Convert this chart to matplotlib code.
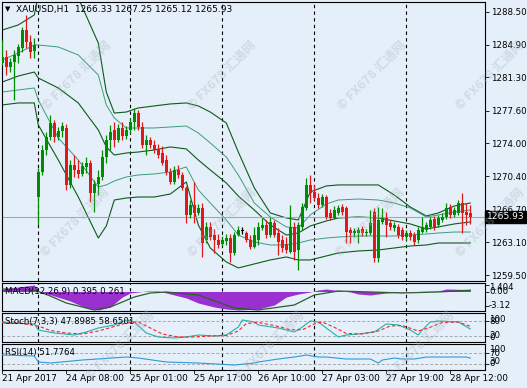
import matplotlib
matplotlib.use("Agg")
import matplotlib.pyplot as plt
import matplotlib.transforms as mtransforms
import numpy as np

# --- Candles (XAUUSD H1) ---
open_ = [1282.88, 1283.54, 1282.44, 1282.99, 1283.65, 1284.53, 1286.51, 1285.19, 1284.20,
         1268.10, 1270.86, 1273.29, 1274.72, 1276.26, 1274.72, 1275.38, 1275.71, 1269.43, 1271.63,
         1271.08, 1270.64, 1271.41, 1271.85, 1268.54, 1269.54, 1270.31, 1272.51, 1274.39, 1275.49,
         1274.39, 1275.71, 1274.83, 1275.49, 1276.37, 1277.36, 1275.82, 1273.84, 1274.39, 1273.84,
         1273.40, 1272.95, 1272.18, 1270.86, 1269.76, 1271.08, 1270.53, 1269.10, 1266.12, 1267.22,
         1266.34, 1266.89, 1263.36, 1264.80, 1263.91, 1263.36, 1262.92, 1263.25, 1263.58, 1261.93,
         1263.91, 1264.35, 1264.13, 1263.36, 1262.59, 1263.36, 1264.69, 1265.02, 1263.91, 1265.24,
         1264.13, 1263.36, 1262.92, 1262.04, 1264.80, 1262.26, 1264.80, 1266.89, 1269.43, 1268.66,
         1267.99, 1267.22, 1268.10, 1266.34, 1265.79, 1266.34, 1267.00, 1266.89, 1264.46, 1264.13,
         1264.13, 1264.58, 1264.13, 1264.13, 1266.45, 1261.38, 1265.35, 1265.79, 1265.24, 1264.69,
         1264.80, 1264.46, 1263.69, 1264.13, 1263.91, 1263.36, 1264.24, 1264.46, 1264.80, 1265.68,
         1265.02, 1265.57, 1265.90, 1267.00, 1266.12, 1266.34, 1267.44, 1266.45, 1266.33]
high = [1285.41, 1284.31, 1283.43, 1284.31, 1284.97, 1286.85, 1288.17, 1285.96, 1285.63,
        1271.30, 1273.84, 1275.27, 1277.14, 1276.59, 1275.82, 1276.37, 1276.15, 1272.18, 1272.73,
        1272.18, 1271.96, 1272.51, 1272.18, 1269.98, 1271.08, 1273.29, 1274.94, 1276.04, 1276.37,
        1276.15, 1276.37, 1275.93, 1276.81, 1277.92, 1277.70, 1276.37, 1274.94, 1274.72, 1274.39,
        1273.95, 1273.73, 1272.73, 1271.30, 1271.52, 1271.63, 1270.86, 1269.32, 1267.77, 1269.76,
        1267.33, 1267.44, 1265.35, 1265.35, 1264.58, 1264.02, 1263.80, 1264.02, 1264.02, 1264.24,
        1264.91, 1264.80, 1264.35, 1263.91, 1264.80, 1265.35, 1265.79, 1265.57, 1265.90, 1265.57,
        1264.69, 1263.91, 1263.69, 1267.22, 1265.35, 1265.35, 1267.44, 1270.20, 1270.53, 1269.43,
        1268.54, 1268.43, 1268.32, 1266.78, 1267.11, 1267.22, 1267.33, 1267.11, 1264.80, 1264.69,
        1264.80, 1264.91, 1264.58, 1266.67, 1266.89, 1267.00, 1266.89, 1266.45, 1265.57, 1265.35,
        1265.13, 1264.80, 1264.46, 1264.46, 1264.24, 1264.80, 1265.90, 1265.35, 1265.90, 1266.01,
        1266.12, 1266.34, 1267.44, 1267.33, 1267.00, 1267.77, 1268.54, 1267.44, 1267.25]
low = [1282.66, 1281.55, 1281.88, 1278.80, 1282.88, 1284.09, 1284.53, 1283.43, 1283.43,
       1265.02, 1270.53, 1272.73, 1274.39, 1274.17, 1274.39, 1274.72, 1268.88, 1269.10, 1270.31,
       1270.20, 1270.42, 1270.75, 1267.55, 1266.45, 1268.32, 1269.98, 1271.85, 1273.29, 1273.62,
       1274.17, 1274.39, 1274.50, 1275.16, 1275.49, 1275.49, 1273.51, 1272.73, 1273.51, 1272.95,
       1272.40, 1271.63, 1270.53, 1269.54, 1269.54, 1270.20, 1268.88, 1265.24, 1265.79, 1265.24,
       1266.12, 1261.49, 1263.03, 1263.36, 1261.93, 1262.48, 1262.70, 1262.81, 1260.94, 1261.71,
       1263.80, 1264.02, 1263.14, 1262.37, 1262.48, 1262.81, 1264.46, 1263.58, 1263.69, 1263.69,
       1261.71, 1262.04, 1261.93, 1261.93, 1261.16, 1260.06, 1264.46, 1266.67, 1267.44, 1267.77,
       1266.89, 1267.00, 1265.68, 1265.57, 1265.68, 1266.12, 1266.12, 1263.03, 1263.03, 1263.69,
       1263.03, 1263.80, 1263.80, 1263.91, 1260.94, 1260.94, 1265.13, 1263.69, 1264.46, 1264.35,
       1263.58, 1263.36, 1263.36, 1263.36, 1262.81, 1263.03, 1264.13, 1264.24, 1264.58, 1264.46,
       1264.80, 1265.35, 1265.68, 1265.79, 1265.90, 1266.12, 1264.13, 1265.02, 1265.12]
close = [1283.54, 1282.44, 1282.99, 1283.76, 1284.64, 1286.51, 1285.19, 1284.09, 1284.86,
         1270.86, 1273.29, 1274.72, 1276.26, 1274.72, 1275.38, 1275.93, 1269.43, 1271.63, 1271.08,
         1270.64, 1271.52, 1271.85, 1268.54, 1269.54, 1270.31, 1272.51, 1274.39, 1275.27, 1274.39,
         1275.71, 1274.83, 1275.49, 1276.37, 1277.36, 1275.82, 1273.84, 1274.39, 1273.84, 1273.29,
         1272.73, 1271.85, 1270.86, 1269.76, 1271.08, 1270.53, 1269.10, 1266.12, 1267.22, 1266.34,
         1266.89, 1263.03, 1264.80, 1263.69, 1263.36, 1262.81, 1263.36, 1263.58, 1261.93, 1263.91,
         1264.46, 1264.35, 1263.36, 1262.59, 1263.91, 1264.80, 1265.02, 1263.91, 1265.35, 1263.91,
         1263.14, 1262.48, 1262.26, 1264.80, 1262.04, 1265.02, 1267.00, 1269.43, 1268.54, 1267.99,
         1267.22, 1268.10, 1265.90, 1265.79, 1266.67, 1266.89, 1266.45, 1264.24, 1264.13, 1264.35,
         1264.46, 1264.13, 1264.24, 1265.24, 1261.38, 1265.57, 1265.79, 1265.02, 1264.80, 1265.02,
         1263.91, 1263.69, 1264.13, 1263.69, 1263.14, 1264.46, 1264.80, 1265.02, 1265.57, 1264.80,
         1265.79, 1265.90, 1266.89, 1266.12, 1266.67, 1267.44, 1266.34, 1266.12, 1265.93]

# --- Bollinger envelopes, sampled at bar indices ---
band_idx = [0, 4, 8, 9, 14, 19, 24, 26, 28, 31, 34, 38, 42, 46, 49, 52, 56, 59, 63, 67, 71,
            74, 77, 81, 84, 89, 94, 98, 102, 106, 109, 113, 117]
bb_up2 = [1286.51, 1287.07, 1288.17, 1290.37, 1290.93, 1290.04, 1285.08, 1279.68, 1277.36,
          1277.47, 1277.92, 1278.14, 1278.36, 1278.47, 1278.14, 1277.47, 1276.26, 1273.06,
          1269.10, 1266.34, 1265.79, 1265.57, 1268.66, 1269.32, 1269.43, 1269.43, 1269.43,
          1268.32, 1267.00, 1266.01, 1266.34, 1267.11, 1267.44]
bb_up1 = [1283.21, 1283.98, 1284.86, 1284.86, 1284.64, 1283.76, 1281.55, 1278.25, 1276.81,
          1275.71, 1275.71, 1275.71, 1275.82, 1275.93, 1275.16, 1274.06, 1272.51, 1270.53,
          1267.44, 1265.90, 1264.80, 1264.69, 1266.12, 1267.33, 1267.77, 1267.88, 1267.77,
          1267.44, 1266.89, 1265.90, 1266.12, 1266.45, 1266.67]
bb_mid = [1280.78, 1281.44, 1281.88, 1281.22, 1280.12, 1278.47, 1275.49, 1273.62, 1272.73,
          1272.95, 1273.06, 1273.29, 1273.62, 1273.40, 1272.18, 1271.08, 1269.65, 1268.21,
          1266.67, 1265.02, 1263.91, 1264.13, 1264.91, 1265.46, 1265.79, 1265.90, 1265.79,
          1265.46, 1265.13, 1264.58, 1264.80, 1265.13, 1265.35]
bb_lo1 = [1279.68, 1279.90, 1280.12, 1278.80, 1274.61, 1272.18, 1269.21, 1269.43, 1269.87,
          1270.31, 1270.53, 1270.64, 1270.86, 1271.41, 1268.88, 1267.44, 1265.57, 1263.91,
          1263.14, 1262.81, 1262.81, 1263.03, 1263.36, 1263.58, 1263.69, 1263.80, 1263.80,
          1263.80, 1263.91, 1264.02, 1264.13, 1264.24, 1264.24]
bb_lo2 = [1278.25, 1278.47, 1278.47, 1276.04, 1272.18, 1268.10, 1263.58, 1264.91, 1267.77,
          1267.99, 1268.10, 1268.10, 1268.43, 1269.76, 1265.02, 1262.48, 1260.94, 1260.28,
          1260.72, 1261.16, 1261.49, 1261.16, 1261.16, 1261.60, 1261.93, 1262.15, 1262.26,
          1262.48, 1262.70, 1262.81, 1263.03, 1263.03, 1263.03]

# --- MACD(12,26,9) ---
macd_idx = [0, 4, 8, 9, 13, 17, 21, 24, 27, 30, 32, 36, 39, 41, 46, 49, 53, 56, 59, 64, 68,
            71, 74, 77, 79, 81, 85, 87, 89, 92, 96, 100, 104, 109, 111, 117]
macd_main = [0.52, 0.94, 1.35, 0.10, -0.94, -1.98, -3.44, -3.85, -3.23, -1.15, -0.31, 0.10,
             0.10, -0.31, -1.35, -2.40, -3.23, -3.65, -3.85, -3.65, -2.81, -1.15, -0.52, -0.10,
             0.31, 0.52, 0.10, -0.10, -0.52, -0.73, -0.31, -0.10, 0.0, 0.10, 0.52, 0.395]
sig_idx = [0, 8, 12, 16, 23, 27, 33, 37, 41, 49, 58, 64, 73, 78, 84, 92, 100, 109, 117]
macd_signal = [0.52, 0.31, -0.94, -2.40, -3.85, -3.23, -1.15, -0.31, -0.10, -0.73, -3.44,
               -3.85, -2.81, -0.73, 0.10, -0.10, -0.31, -0.10, 0.261]

# --- Stochastic(7,3,3) ---
stk_idx = [0, 2, 8, 9, 13, 18, 21, 24, 28, 31, 33, 36, 39, 43, 46, 49, 53, 56, 59, 60, 63,
           64, 69, 73, 75, 77, 79, 81, 84, 86, 89, 93, 96, 99, 102, 104, 105, 107, 109, 114, 117]
stoch_main = [76, 72, 68, 44, 32, 24, 36, 52, 64, 84, 76, 32, 16, 12, 16, 24, 20, 24, 56, 84,
              76, 64, 52, 36, 56, 80, 76, 52, 16, 24, 28, 36, 68, 64, 44, 24, 44, 76, 80, 76,
              47.8985]
sig_s_idx = [0, 4, 9, 12, 16, 20, 24, 28, 31, 34, 37, 40, 44, 48, 52, 56, 59, 61, 64, 68, 72,
             75, 78, 80, 83, 86, 90, 94, 97, 100, 104, 107, 110, 114, 117]
stoch_signal = [72, 72, 60, 42, 32, 28, 40, 58, 72, 76, 52, 28, 16, 16, 20, 22, 40, 70, 74,
                62, 45, 45, 68, 76, 55, 30, 28, 40, 60, 62, 40, 55, 74, 76, 58.6501]

# --- RSI(14) ---
rsi_idx = [0, 8, 9, 12, 20, 31, 34, 41, 49, 58, 63, 64, 69, 73, 76, 79, 81, 86, 92, 94, 95,
           98, 100, 103, 106, 111, 116, 117]
rsi = [62.9, 59.3, 37.5, 33.8, 44.7, 55.6, 52.0, 37.5, 33.8, 26.5, 33.8, 37.5, 48.4, 55.6,
       62.9, 55.6, 55.6, 48.4, 48.4, 33.8, 44.7, 52.0, 48.4, 48.4, 55.6, 55.6, 55.6, 51.7764]

price_ticks = [1288.50, 1284.90, 1281.30, 1277.60, 1274.00, 1270.40, 1266.70, 1263.10, 1259.50]
separators = [9, 32, 55, 78, 101]
time_idx = [0, 16, 32, 48, 64, 80, 96, 112]
time_labels = ["21 Apr 2017", "24 Apr 08:00", "25 Apr 01:00", "25 Apr 17:00",
               "26 Apr 10:00", "27 Apr 03:00", "27 Apr 19:00", "28 Apr 12:00"]

# --- styling ---
W, H = 527, 388
BG = "#E4EFFA"
UP = "#008C00"
DOWN = "#E01818"
BAND_DARK = "#0E5A1A"
BAND_LIGHT = "#3C9C78"
FS = 6.2
XL, XR = -0.075, 120.675   # bar index at left / right panel edge

plt.rcParams["font.family"] = ["DejaVu Sans"]
fig = plt.figure(figsize=(W / 100, H / 100), dpi=100, facecolor=BG)


def add_panel(top, bottom, left=2, right=485):
    ax = fig.add_axes([left / W, 1 - bottom / H, (right - left) / W, (bottom - top) / H])
    ax.set_facecolor(BG)
    ax.set_xlim(XL, XR)
    for s in ax.spines.values():
        s.set_linewidth(0.8)
        s.set_color("black")
    ax.set_xticks([])
    ax.yaxis.tick_right()
    ax.tick_params(axis="y", direction="out", length=3, width=0.6, pad=1.5, labelsize=FS)
    for x in separators:
        ax.axvline(x, color="black", lw=0.8, ls=(0, (3, 3)), zorder=1)
    return ax


def side_labels(ax, items):
    # MetaTrader shifts the extreme labels inside the small panels
    for text, ypix in items:
        fig.text(489 / W, 1 - ypix / H, text, fontsize=FS, ha="left", va="center")


# --- main price panel ---
ax = add_panel(2, 281)
ax.set_ylim(1258.84, 1289.60)
ax.set_yticks(price_ticks)
ax.set_yticklabels([f"{p:.2f}" for p in price_ticks])

bx = np.arange(len(close))
o = np.array(open_); c = np.array(close); hi = np.array(high); lo = np.array(low)
col = np.where(c > o, UP, np.where(c < o, DOWN, "black"))
ax.vlines(bx, lo, hi, colors=col, lw=0.9, zorder=3)
body_lo = np.minimum(o, c)
body_h = np.maximum(np.abs(c - o), 0.06)
ax.bar(bx, body_h, bottom=body_lo, width=0.72, color=col, linewidth=0, zorder=4)

for vals, colr, lw in [(bb_up2, BAND_DARK, 0.8), (bb_mid, BAND_DARK, 0.8), (bb_lo2, BAND_DARK, 0.8),
                       (bb_up1, BAND_LIGHT, 0.7), (bb_lo1, BAND_LIGHT, 0.7)]:
    ax.plot(band_idx, vals, color=colr, lw=lw, zorder=2)

ax.axhline(close[-1], color="#A8A8A8", lw=0.8, zorder=2)

trans = mtransforms.blended_transform_factory(ax.transAxes, ax.transData)
ax.text(1.004, close[-1], f"{close[-1]:.2f}", transform=trans, color="white", fontsize=FS + 0.4,
        va="center", ha="left", zorder=10, clip_on=False,
        bbox=dict(boxstyle="square,pad=0.18", fc="black", ec="black"))

ax.text(0.006, 0.985, "\u25bc", transform=ax.transAxes, fontsize=5, va="top", ha="left")
ax.text(0.03, 0.988, f"XAUUSD,H1  {open_[-1]:.2f} {high[-1]:.2f} {low[-1]:.2f} {close[-1]:.2f}",
        transform=ax.transAxes, fontsize=FS + 0.3, va="top", ha="left")

# --- MACD panel ---
axm = add_panel(283, 311)
axm.set_ylim(-4.06, 1.77)
axm.fill_between(macd_idx, 0, macd_main, color="#9B30D0", lw=0, zorder=2)
axm.plot(sig_idx, macd_signal, color="#2C5E2C", lw=0.9, zorder=3)
axm.set_yticks([1.404, 0.0, -3.12])
axm.set_yticklabels([])
side_labels(axm, [("1.404", 287.5), ("0.00", 291.5), ("-3.12", 305.5)])
axm.text(0.006, 0.86, "MACD(12,26,9) 0.395 0.261", transform=axm.transAxes, fontsize=FS,
         va="top", ha="left", zorder=5)

# --- Stochastic panel ---
axs = add_panel(313, 342)
axs.set_ylim(-4, 112)
for lvl in (80, 20):
    axs.axhline(lvl, color="#A8A8A8", lw=0.7, ls=(0, (3, 2)), zorder=1)
axs.plot(stk_idx, stoch_main, color="#20B2AA", lw=0.8, zorder=3)
axs.plot(sig_s_idx, stoch_signal, color="#FF2020", lw=0.8, ls=(0, (3, 2)), zorder=3)
axs.set_yticks([80, 20])
axs.set_yticklabels([])
side_labels(axs, [("100", 319.5), ("80", 321.5), ("20", 335), ("0", 337)])
axs.text(0.006, 0.86, "Stoch(7,3,3) 47.8985 58.6501", transform=axs.transAxes, fontsize=FS,
         va="top", ha="left", zorder=5)

# --- RSI panel ---
axr = add_panel(344, 370)
axr.set_ylim(8.4, 103)
for lvl in (70, 30):
    axr.axhline(lvl, color="#A8A8A8", lw=0.7, ls=(0, (3, 2)), zorder=1)
axr.plot(rsi_idx, rsi, color="#2E9BD6", lw=0.8, zorder=3)
axr.set_yticks([70, 30])
axr.set_yticklabels([])
side_labels(axr, [("100", 350), ("70", 353.5), ("30", 361), ("0", 364)])
axr.text(0.006, 0.86, "RSI(14) 51.7764", transform=axr.transAxes, fontsize=FS,
         va="top", ha="left", zorder=5)

# --- time axis labels ---
for i, lab in zip(time_idx, time_labels):
    xf = (2 + (i - XL) * 4) / W
    fig.text(xf, 1 - 378.5 / H, lab, fontsize=FS + 0.2, ha="left", va="center")
    fig.add_artist(plt.Line2D([xf, xf], [1 - 370 / H, 1 - 373 / H], color="black", lw=0.6))

# --- faint watermarks ---
for (wx, wy) in [(77, 75), (222, 75), (372, 75), (490, 75),
                 (75, 222), (222, 222), (370, 222), (490, 222),
                 (120, 345), (270, 345), (420, 345)]:
    fig.text(wx / W, 1 - wy / H, "\u00a9 FX678 汇通网", fontsize=9, rotation=45,
             color="#A4AFBA", alpha=0.33, ha="center", va="center",
             family=["Noto Sans CJK SC", "DejaVu Sans"], fontweight="bold")

fig.savefig("out.png", dpi=100, facecolor=BG)
